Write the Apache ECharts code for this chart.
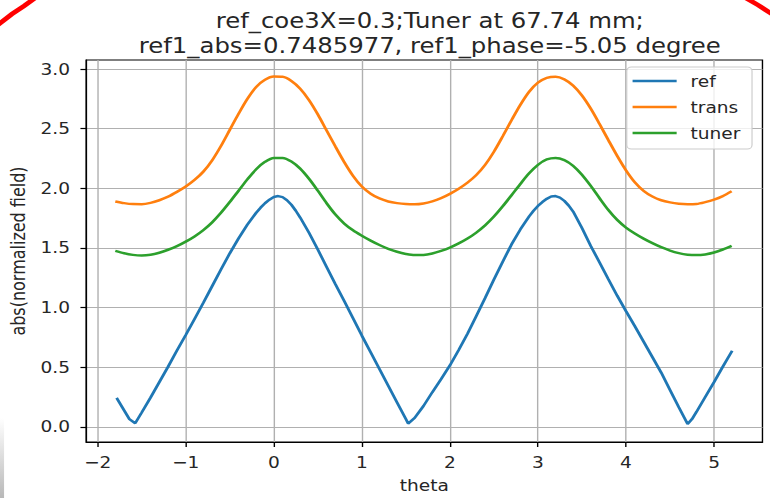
<!DOCTYPE html>
<html>
<head>
<meta charset="utf-8">
<script src="https://cdn.jsdelivr.net/npm/echarts@6/dist/echarts.min.js"></script>
<style>
html, body { margin: 0; padding: 0; background: #fff; overflow: hidden; }
/* the reference screenshot is stretched sideways, so draw narrow and stretch the same way */
#chart { width: 664px; height: 498px; transform: scaleX(1.16); transform-origin: 0 0; }
</style>
</head>
<body>
<div id="chart"></div>
<script>
// x grid shared by trans / tuner
const theta = [
  -1.8, -1.7, -1.6, -1.5, -1.4, -1.3, -1.2, -1.1, -1.0, -0.9, -0.8, -0.7, -0.6, -0.5, -0.4, -0.3, -0.2, -0.1,
  0.0, 0.1, 0.2, 0.3, 0.4, 0.5, 0.6, 0.7, 0.8, 0.9, 1.0, 1.1, 1.2, 1.3, 1.4, 1.5, 1.6, 1.7, 1.8, 1.9,
  2.0, 2.1, 2.2, 2.3, 2.4, 2.5, 2.6, 2.7, 2.8, 2.9, 3.0, 3.1, 3.2, 3.3, 3.4, 3.5, 3.6, 3.7, 3.8, 3.9,
  4.0, 4.1, 4.2, 4.3, 4.4, 4.5, 4.6, 4.7, 4.8, 4.9, 5.0, 5.1, 5.2
]
const transVals = [
  1.89, 1.876, 1.868, 1.867, 1.878, 1.90, 1.93, 1.97, 2.015, 2.07, 2.14, 2.235, 2.355, 2.49, 2.625, 2.75, 2.85, 2.91,
  2.937, 2.935, 2.90, 2.835, 2.74, 2.62, 2.485, 2.35, 2.22, 2.105, 2.015, 1.955, 1.915, 1.89, 1.876, 1.868, 1.866, 1.873, 1.891, 1.918,
  1.954, 1.997, 2.048, 2.112, 2.197, 2.307, 2.436, 2.571, 2.70, 2.81, 2.886, 2.926, 2.936, 2.914, 2.861, 2.778, 2.668, 2.539, 2.404, 2.272,
  2.151, 2.051, 1.979, 1.931, 1.90, 1.882, 1.871, 1.867, 1.869, 1.884, 1.905, 1.935, 1.975
]
const tunerVals = [
  1.475, 1.455, 1.442, 1.437, 1.443, 1.46, 1.485, 1.515, 1.553, 1.597, 1.65, 1.715, 1.795, 1.885, 1.98, 2.075, 2.16, 2.222,
  2.255, 2.255, 2.225, 2.165, 2.08, 1.98, 1.875, 1.78, 1.705, 1.648, 1.603, 1.562, 1.525, 1.493, 1.468, 1.45, 1.44, 1.441, 1.453, 1.475,
  1.503, 1.538, 1.579, 1.629, 1.689, 1.763, 1.849, 1.942, 2.037, 2.126, 2.197, 2.242, 2.255, 2.237, 2.189, 2.114, 2.02, 1.917, 1.818, 1.735,
  1.671, 1.621, 1.578, 1.54, 1.506, 1.478, 1.457, 1.444, 1.44, 1.446, 1.462, 1.487, 1.518
]
// ref has sharp minima, so it keeps its own x points (denser round the peaks)
const thetaRef = [
  -1.785, -1.64, -1.574, -1.5, -1.4, -1.3, -1.2, -1.1, -1.0, -0.9, -0.8, -0.7, -0.6, -0.5, -0.4, -0.3, -0.2, -0.15, -0.1, -0.05,
  0.0, 0.05, 0.1, 0.15, 0.2, 0.25, 0.3, 0.4, 0.5, 0.6, 0.7, 0.8, 0.9, 1.0, 1.1, 1.2, 1.3, 1.4, 1.5, 1.526,
  1.6, 1.7, 1.8, 1.9, 2.0, 2.1, 2.2, 2.3, 2.4, 2.5, 2.6, 2.7, 2.8, 2.9, 2.95, 3.0, 3.05, 3.1, 3.15, 3.2, 3.25,
  3.3, 3.35, 3.4, 3.5, 3.6, 3.7, 3.8, 3.9, 4.0, 4.1, 4.2, 4.3, 4.4, 4.5, 4.6, 4.7, 4.75, 4.8, 4.9, 5.0, 5.1, 5.206
]
const refVals = [
  0.243, 0.065, 0.03, 0.12, 0.245, 0.375, 0.505, 0.64, 0.77, 0.905, 1.04, 1.18, 1.32, 1.455, 1.58, 1.695, 1.795, 1.838, 1.875, 1.905,
  1.928, 1.935, 1.926, 1.9, 1.862, 1.812, 1.755, 1.627, 1.487, 1.34, 1.195, 1.055, 0.91, 0.765, 0.625, 0.485, 0.345, 0.205, 0.065, 0.028,
  0.075, 0.175, 0.29, 0.40, 0.515, 0.645, 0.78, 0.93, 1.08, 1.235, 1.385, 1.53, 1.655, 1.765, 1.812, 1.852, 1.885, 1.912, 1.932, 1.935, 1.922,
  1.895, 1.855, 1.805, 1.668, 1.517, 1.378, 1.237, 1.10, 0.97, 0.845, 0.715, 0.585, 0.455, 0.31, 0.165, 0.023, 0.065, 0.125, 0.25, 0.375, 0.505, 0.638
]
const xTicks = [-2, -1, 0, 1, 2, 3, 4, 5]
const yTicks = [0, 0.5, 1.0, 1.5, 2.0, 2.5, 3.0]
const seriesNames = ['ref', 'trans', 'tuner']
const colors = ['#1f77b4', '#ff7f0e', '#2ca02c']

const font = 'DejaVu Sans'
const txt = '#262626'

const chart = echarts.init(document.getElementById('chart'), null, { renderer: 'svg' })

const pairs = (xs, ys) => xs.map((x, i) => [x, ys[i]])

const option = {
  animation: false,
  color: colors,
  title: {
    text: 'ref_coe3X=0.3;Tuner at 67.74 mm;\nref1_abs=0.7485977, ref1_phase=-5.05 degree',
    left: 365.5,
    top: 3,
    textAlign: 'center',
    textStyle: { fontFamily: font, fontSize: 21, fontWeight: 'normal', color: txt, lineHeight: 25 }
  },
  legend: {
    data: seriesNames,
    orient: 'vertical',
    right: 15.7,
    top: 67,
    icon: 'rect',
    itemWidth: 38,
    itemHeight: 2.6,
    itemGap: 8,
    padding: [5, 10, 7, 5],
    backgroundColor: 'rgba(255,255,255,0.8)',
    borderColor: '#cccccc',
    borderWidth: 1,
    borderRadius: 4,
    textStyle: { fontFamily: font, fontSize: 16, color: txt, lineHeight: 18, padding: [0, 0, 0, 7] }
  },
  grid: {
    show: true,
    left: 73.9,
    right: 6.7,
    top: 60,
    bottom: 55.7,
    borderColor: '#000',
    borderWidth: 1.2,
    backgroundColor: '#fff'
  },
  xAxis: {
    type: 'value',
    min: -2.13,
    max: 5.55,
    name: 'theta',
    nameLocation: 'middle',
    nameGap: 35,
    nameTextStyle: { fontFamily: font, fontSize: 16, color: txt },
    axisLine: { show: true, onZero: false, lineStyle: { color: '#000', width: 1.2 } },
    axisTick: { show: true, customValues: xTicks, length: 5, lineStyle: { color: '#000', width: 1.2 } },
    axisLabel: {
      customValues: xTicks,
      margin: 12,
      fontFamily: font, fontSize: 16, color: txt,
      formatter: v => (v < 0 ? '\u2212' + Math.abs(v) : String(v))
    },
    splitLine: { show: true, lineStyle: { color: '#b0b0b0', width: 1.2 } }
  },
  yAxis: {
    type: 'value',
    min: -0.127,
    max: 3.076,
    name: 'abs(normalized field)',
    nameLocation: 'middle',
    nameGap: 48,
    nameTextStyle: { fontFamily: font, fontSize: 16, color: txt },
    axisLine: { show: true, onZero: false, lineStyle: { color: '#000', width: 1.2 } },
    axisTick: { show: true, customValues: yTicks, length: 5, lineStyle: { color: '#000', width: 1.2 } },
    axisLabel: {
      customValues: yTicks,
      margin: 14,
      fontFamily: font, fontSize: 16, color: txt,
      formatter: v => v.toFixed(1)
    },
    splitLine: { show: true, lineStyle: { color: '#b0b0b0', width: 1.2 } }
  },
  series: [
    {
      name: 'ref', type: 'line', symbol: 'none',
      data: pairs(thetaRef, refVals),
      lineStyle: { width: 2.5, color: colors[0] }
    },
    {
      name: 'trans', type: 'line', symbol: 'none', smooth: 0.3,
      data: pairs(theta, transVals),
      lineStyle: { width: 2.5, color: colors[1] }
    },
    {
      name: 'tuner', type: 'line', symbol: 'none', smooth: 0.3,
      data: pairs(theta, tunerVals),
      lineStyle: { width: 2.5, color: colors[2] }
    }
  ],
  graphic: [
    // red annotation arcs at the corners of the screenshot
    { type: 'polyline', silent: true, shape: { points: [[-2, 25], [10.3, 14], [20.7, 6], [30.2, -2]] }, style: { stroke: '#ff0000', lineWidth: 4.5, fill: null } },
    { type: 'polyline', silent: true, shape: { points: [[643, -2], [653.4, 5], [665.5, 14]] }, style: { stroke: '#ff0000', lineWidth: 4.5, fill: null } },
    {
      type: 'rect', silent: true, shape: { x: 0, y: 418, width: 3.5, height: 80 },
      style: { fill: new echarts.graphic.LinearGradient(0, 0, 0, 1, [{ offset: 0, color: '#ffffff' }, { offset: 1, color: '#b8b8b8' }]) }
    }
  ]
}
chart.setOption(option)
</script>
</body>
</html>
